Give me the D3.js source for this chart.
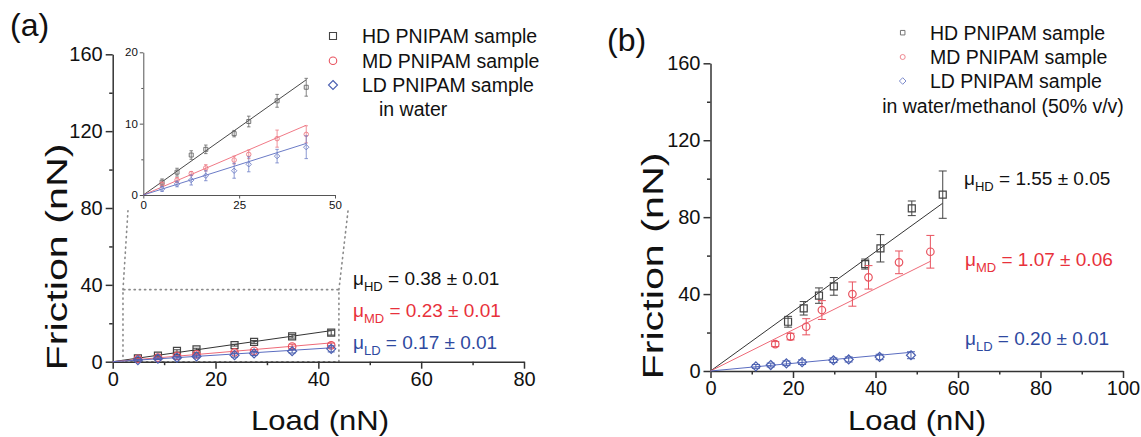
<!DOCTYPE html>
<html>
<head>
<meta charset="utf-8">
<script src="https://cdn.jsdelivr.net/npm/d3@7"></script>
<style>
body{margin:0;background:#fff}
svg{display:block}
text{font-family:"Liberation Sans",Arial,Helvetica,sans-serif}
</style>
</head>
<body>
<svg id="chart" width="1141" height="437"></svg>
<script>
// ---- data ----
// (a) in water: same loads for all three samples
const loadA  = [4.9, 8.8, 12.5, 16.3, 23.7, 27.5, 34.9, 42.5];
const hdA    = [1.8, 3.2, 5.6, 6.4, 8.6, 10.3, 13.2, 15.1];
const hdAErr = [0.45, 0.55, 0.6, 0.6, 0.45, 0.75, 0.9, 1.25];
const mdA    = [1.5, 2.1, 3.0, 3.8, 4.9, 5.7, 7.9, 8.5];
const mdAErr = [0.3, 0.35, 0.3, 0.45, 0.55, 0.6, 1.2, 1.2];
const ldA    = [0.85, 1.55, 2.1, 2.7, 3.4, 4.3, 5.45, 6.7];
const ldAErr = [0.35, 0.4, 0.7, 0.7, 1.05, 1.05, 0.95, 1.6];
const muA    = [0.38, 0.23, 0.17];
const muAErr = [0.01, 0.01, 0.01];

// (b) in water/methanol
const loadHdB = [18.8, 22.6, 26.3, 29.9, 37.5, 41.2, 48.8, 56.3];
const hdB     = [25.6, 32.6, 39.2, 44.0, 55.6, 63.8, 84.6, 91.7];
const hdBErr  = [2.8, 3.5, 4.0, 4.6, 2.6, 7.1, 3.8, 12.3];
const loadMdB = [15.7, 19.4, 23.2, 27.0, 34.4, 38.3, 45.7, 53.3];
const mdB     = [14.0, 17.9, 23.0, 31.7, 40.0, 48.7, 56.5, 62.0];
const mdBErr  = [1.3, 1.7, 4.2, 4.9, 6.3, 6.1, 5.9, 8.5];
const loadLdB = [11.0, 14.6, 18.4, 22.2, 29.8, 33.5, 41.0, 48.6];
const ldB     = [2.4, 3.1, 4.0, 4.6, 5.6, 6.0, 7.3, 8.2];
const ldBErr  = [1.0, 1.0, 1.2, 1.2, 1.2, 1.3, 1.4, 1.8];
const muB     = [1.55, 1.07, 0.20];
const muBErr  = [0.05, 0.06, 0.01];

const sampleNames = ['HD', 'MD', 'LD'];
const legendLabels = ['HD PNIPAM sample', 'MD PNIPAM sample', 'LD PNIPAM sample'];
const solventA = 'in water';
const solventB = 'in water/methanol (50% v/v)';

const yTicks  = [0, 40, 80, 120, 160];
const yMinor  = [20, 60, 100, 140];
const xTicksA = [0, 20, 40, 60, 80];
const xMinorA = [10, 30, 50, 70];
const xTicksB = [0, 20, 40, 60, 80, 100];
const xMinorB = [10, 30, 50, 70, 90];
const insetXTicks = [0, 25, 50];
const insetYTicks = [0, 10, 20];
const insetYMinor = [5, 15];

// zoom box in (a) main coords, connector ends in inset coords
const zoomBox = {x0: 2, x1: 44, y1: 37.5};
const zoomEnds = [[-4, -2.2], [53.4, -2.2]];

// ---- styles ----
const shapes = ['square', 'circle', 'diamond'];
const markColor = ['#444', '#e8525e', '#4a5fb0'];
const lineColor = ['#333', '#ee6a78', '#5a6cc0'];
const insetColor = ['#666', '#ec7a84', '#6f7fc6'];
const textColor = ['#111', '#e8313b', '#2e49a0'];

const svg = d3.select('#chart');

function shapePath(shape, s) {
  const h = s / 2;
  if (shape === 'square') return `M${-h},${-h}h${s}v${s}h${-s}Z`;
  if (shape === 'circle') return `M${h},0A${h},${h} 0 1,1 ${-h},0A${h},${h} 0 1,1 ${h},0Z`;
  const r = h * 1.2;
  return `M0,${-r}L${r},0L0,${r}L${-r},0Z`;
}

function axes(g, x, y, xt, xm, yt, ym, o) {
  const gx = g.append('g').attr('transform', `translate(0,${y(0)})`);
  gx.call(d3.axisBottom(x).tickValues(xt).tickSize(o.major).tickSizeOuter(0)
    .tickPadding(o.pad).tickFormat(d3.format('d')));
  if (xm) gx.append('g').call(d3.axisBottom(x).tickValues(xm).tickSize(o.minor)
    .tickSizeOuter(0).tickFormat('')).select('.domain').remove();

  const gy = g.append('g').attr('transform', `translate(${x(0)},0)`);
  gy.call(d3.axisLeft(y).tickValues(yt).tickSize(o.major).tickSizeOuter(0)
    .tickPadding(o.pad).tickFormat(d3.format('d')));
  if (ym) gy.append('g').call(d3.axisLeft(y).tickValues(ym).tickSize(o.minor)
    .tickSizeOuter(0).tickFormat('')).select('.domain').remove();

  g.selectAll('.domain, .tick line').attr('stroke', o.color).attr('stroke-width', o.sw);
  g.selectAll('.tick text').attr('fill', '#111')
    .style('font-family', '"Liberation Sans",Arial,sans-serif')
    .style('font-size', o.fs + 'px');
}

function series(g, x, y, loads, vals, errs, mu, i, o) {
  const xEnd = d3.max(loads);
  g.append('line')
    .attr('x1', x(0)).attr('y1', y(0))
    .attr('x2', x(xEnd)).attr('y2', y(mu * xEnd))
    .attr('stroke', o.line[i]).attr('stroke-width', o.lw);
  const pts = loads.map((l, k) => ({l: l, v: vals[k], e: errs[k]}));
  const eb = g.append('g').attr('stroke', o.mark[i]).attr('stroke-width', o.ew).attr('fill', 'none');
  eb.selectAll('path').data(pts).enter().append('path')
    .attr('d', d => {
      const cx = x(d.l), t = y(d.v + d.e), b = y(d.v - d.e), c = o.cap / 2;
      return `M${cx},${t}V${b}M${cx - c},${t}H${cx + c}M${cx - c},${b}H${cx + c}`;
    });
  g.append('g').selectAll('path').data(pts).enter().append('path')
    .attr('transform', d => `translate(${x(d.l)},${y(d.v)})`)
    .attr('d', shapePath(shapes[i], o.size[i]))
    .attr('fill', 'none').attr('stroke', o.mark[i]).attr('stroke-width', o.ms);
}

function muText(g, xp, yb, i, mu, err) {
  const t = g.append('text').attr('x', xp).attr('y', yb)
    .attr('fill', textColor[i]).style('font-size', '19px');
  t.append('tspan').text('\u03bc');
  t.append('tspan').attr('dy', 6).style('font-size', '13px').text(sampleNames[i]);
  t.append('tspan').attr('dy', -6).text(` = ${mu.toFixed(2)} \u00b1 ${err.toFixed(2)}`);
}

function legend(g, mx, my, tx, ty, size, sw, colors) {
  legendLabels.forEach((lab, i) => {
    g.append('path').attr('transform', `translate(${mx},${my[i]})`)
      .attr('d', shapePath(shapes[i], size[i]))
      .attr('fill', 'none').attr('stroke', colors[i]).attr('stroke-width', sw);
    g.append('text').attr('x', tx).attr('y', ty[i]).attr('fill', '#111')
      .style('font-size', '19.5px').text(lab);
  });
}

function axisTitles(g, xc, xb, yc, yx) {
  g.append('text').attr('x', xc).attr('y', xb).attr('text-anchor', 'middle')
    .attr('textLength', 138).attr('lengthAdjust', 'spacingAndGlyphs')
    .style('font-size', '28px').attr('fill', '#111').text('Load (nN)');
  g.append('text').attr('transform', `translate(${yx},${yc}) rotate(-90)`)
    .attr('text-anchor', 'middle')
    .attr('textLength', 227).attr('lengthAdjust', 'spacingAndGlyphs')
    .style('font-size', '30px').attr('fill', '#111').text('Friction (nN)');
}

const mainAxis = {major: 7, minor: 3.5, pad: 3, color: '#333', sw: 1.5, fs: 20};
const mainStyle = {line: lineColor, mark: markColor, lw: 1, ew: 1, cap: 7, ms: 1.2, size: [7, 7.5, 7.5]};

// ---------------- panel (a) ----------------
const gA = svg.append('g');
const xA = d3.scaleLinear().domain([0, 80]).range([112.7, 524]);
const yA = d3.scaleLinear().domain([0, 160]).range([361.7, 54.3]);

// inset scales
const xI = d3.scaleLinear().domain([0, 50]).range([143.3, 335]);
const yI = d3.scaleLinear().domain([0, 20]).range([195, 52.3]);

// dotted zoom indicator
const dot = gA.append('g').attr('fill', 'none').attr('stroke', '#8a8a8a')
  .attr('stroke-width', 1.6).attr('stroke-dasharray', '1.2,4').attr('stroke-linecap', 'round');
dot.append('path').attr('d',
  `M${xA(zoomBox.x0)},${yA(0)}V${yA(zoomBox.y1)}H${xA(zoomBox.x1)}V${yA(0)}H${xA(zoomBox.x0)}`);
dot.append('path').attr('d',
  `M${xA(zoomBox.x0)},${yA(zoomBox.y1)}L${xI(zoomEnds[0][0])},${yI(zoomEnds[0][1])}`);
dot.append('path').attr('d',
  `M${xA(zoomBox.x1)},${yA(zoomBox.y1)}L${xI(zoomEnds[1][0])},${yI(zoomEnds[1][1])}`);

axes(gA, xA, yA, xTicksA, xMinorA, yTicks, yMinor, mainAxis);
const valsA = [hdA, mdA, ldA], errsA = [hdAErr, mdAErr, ldAErr];
valsA.forEach((v, i) => series(gA, xA, yA, loadA, v, errsA[i], muA[i], i, mainStyle));

// inset
const gI = svg.append('g');
axes(gI, xI, yI, insetXTicks, null, insetYTicks, insetYMinor,
  {major: 3.5, minor: 2, pad: 2, color: '#555', sw: 1, fs: 11.5});
valsA.forEach((v, i) => series(gI, xI, yI, loadA, v, errsA[i], muA[i], i,
  {line: lineColor, mark: insetColor, lw: 0.9, ew: 0.8, cap: 3.5, ms: 0.9, size: [4, 4.5, 4.5]}));

legend(gA, 333, [36, 60.7, 85], 362, [43, 67.5, 92], [7, 7.5, 7.5], 1.1, markColor);
gA.append('text').attr('x', 379).attr('y', 116).attr('fill', '#111')
  .style('font-size', '19.5px').text(solventA);

muText(gA, 353, 285, 0, muA[0], muAErr[0]);
muText(gA, 353, 317, 1, muA[1], muAErr[1]);
muText(gA, 353, 348.5, 2, muA[2], muAErr[2]);

axisTitles(gA, 320, 430, 257, 67);
gA.append('text').attr('x', 10).attr('y', 36).attr('fill', '#111')
  .style('font-size', '32px').text('(a)');

// ---------------- panel (b) ----------------
const gB = svg.append('g');
const xB = d3.scaleLinear().domain([0, 100]).range([710.5, 1123]);
const yB = d3.scaleLinear().domain([0, 160]).range([371, 63.3]);

axes(gB, xB, yB, xTicksB, xMinorB, yTicks, yMinor, mainAxis);
const loadsB = [loadHdB, loadMdB, loadLdB], valsB = [hdB, mdB, ldB], errsB = [hdBErr, mdBErr, ldBErr];
valsB.forEach((v, i) => series(gB, xB, yB, loadsB[i], v, errsB[i], muB[i], i,
  Object.assign({}, mainStyle, {cap: 8})));

legend(gB, 902.7, [32.7, 57, 81], 930, [39.5, 64.3, 88], [4.5, 5, 5.5], 0.9, insetColor);
gB.append('text').attr('x', 1003).attr('y', 113).attr('text-anchor', 'middle')
  .attr('fill', '#111').style('font-size', '19.5px').text(solventB);

muText(gB, 964, 185, 0, muB[0], muBErr[0]);
muText(gB, 965, 266, 1, muB[1], muBErr[1]);
muText(gB, 965, 345, 2, muB[2], muBErr[2]);

axisTitles(gB, 917, 430, 266, 663);
gB.append('text').attr('x', 607).attr('y', 51).attr('fill', '#111')
  .style('font-size', '32px').text('(b)');
</script>
</body>
</html>
